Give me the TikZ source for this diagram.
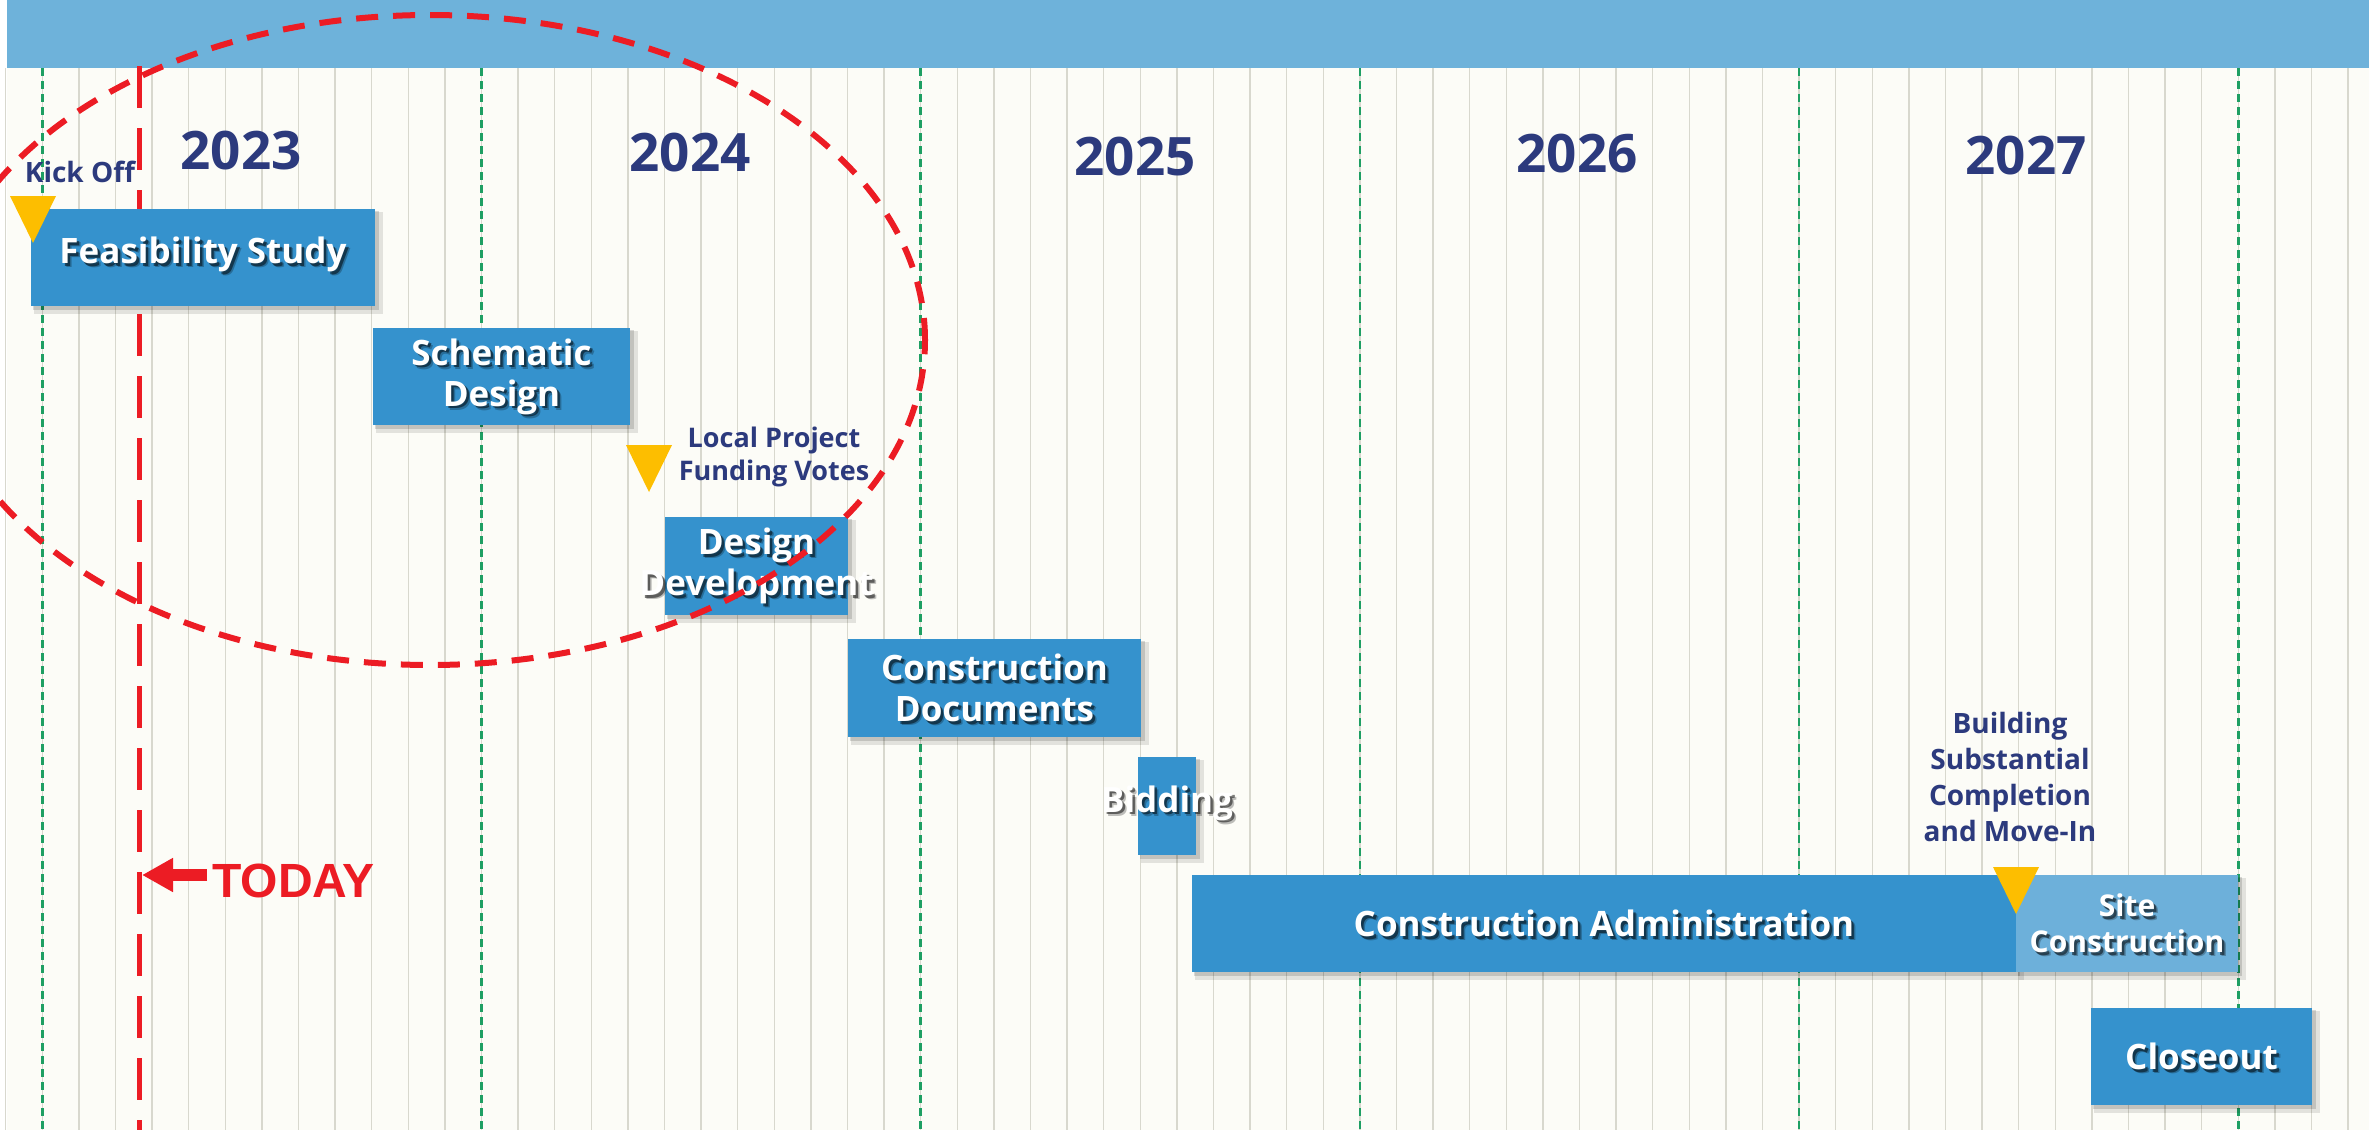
\documentclass[tikz,border=0pt]{standalone}
\usepackage{fontspec}
\setmainfont{Open Sans}
\newfontfamily\arialfont{Liberation Sans}
\usetikzlibrary{arrows.meta,calc,fit}
\definecolor{barblue}{HTML}{6EB2DA}
\definecolor{boxblue}{HTML}{3592CD}
\definecolor{lightbox}{HTML}{6DB0DA}
\definecolor{navy}{HTML}{2C3A7D}
\definecolor{msyellow}{HTML}{FDBE00}
\definecolor{todayred}{HTML}{EC1C24}
\definecolor{gridgray}{HTML}{D8D8CE}
\definecolor{greenline}{HTML}{1E9F63}
\definecolor{bgcream}{HTML}{FCFCF7}
\tikzset{
  gridline/.style={draw=gridgray, line width=1.5pt},
  yearline/.style={draw=greenline, line width=2.5pt, dash pattern=on 8pt off 5pt},
  todayline/.style={draw=todayred, line width=5pt, dash pattern=on 42pt off 20pt},
  ellipseline/.style={draw=todayred, line width=6pt, dash pattern=on 22pt off 15pt},
  boxnode/.style={fill=boxblue, draw=none, inner sep=0pt, outer sep=0pt},
  boxlabel/.style={text=white, font=\bfseries\fontsize{35}{41}\selectfont, align=center, inner sep=0pt},
  smalllabel/.style={font=\bfseries\fontsize{30}{36}\selectfont},
  navylabel/.style={text=navy, font=\bfseries\fontsize{28}{35}\selectfont, align=center, inner sep=0pt},
  yearlabel/.style={text=navy, font=\bfseries\fontsize{53}{60}\selectfont, inner sep=0pt, anchor=base},
  milestone/.style={fill=msyellow, draw=none},
  todaytext/.style={text=todayred, font=\arialfont\bfseries\fontsize{48}{52}\selectfont, inner sep=0pt, anchor=base west},
  todayarrow/.style={draw=todayred, line width=12pt, -{Triangle[length=31pt,width=32pt]}}
}
\newcommand{\taskbox}[6][]{%
  \fill[black, opacity=0.10] (#3+3,#4+3) rectangle (#5+8,#6+8);
  \fill[black, opacity=0.14] (#3+2,#4+2) rectangle (#5+4,#6+4);
  \node[boxnode,#1, fit={(#3,#4) (#5,#6)}] (#2) {};
}
\newcommand{\shadowlabel}[4][]{%
  \node[boxlabel,#1,text=black,opacity=0.25] (#2-sh2) at ($#3+(4,4)$) {#4};
  \node[boxlabel,#1,text=black,opacity=0.5] (#2-sh) at ($#3+(2.5,2.5)$) {#4};
  \node[boxlabel,#1] (#2) at #3 {#4};
}
\newcommand{\milestonetri}[2]{%
  \fill[milestone] (#1-23,#2) -- (#1+23,#2) -- (#1,#2+47) -- cycle;
}
\begin{document}
\begin{tikzpicture}[x=1pt,y=-1pt]
\useasboundingbox (0,0) rectangle (2369,1130);
\clip (0,0) rectangle (2369,1130);
\fill[white] (0,0) rectangle (2369,1130);
\fill[bgcream] (7,68) rectangle (2369,1130);
% month grid
\foreach \k in {-1,...,63} {
  \pgfmathsetmacro\gx{42.3+36.6*\k}
  \draw[gridline] (\gx,68) -- (\gx,1130);
}
% year separators
\foreach \k in {0,...,5} {
  \pgfmathsetmacro\gx{42.3+439.2*\k}
  \draw[yearline] (\gx,68) -- (\gx,1130);
}
% top bar
\fill[barblue] (7,0) rectangle (2369,68);
% today line
\coordinate (todaytop) at (139,66);
\coordinate (todaybot) at (139,1130);
\draw[todayline] (todaytop) -- (todaybot);
% years
\node[yearlabel] (y2023) at (241,169) {2023};
\node[yearlabel] (y2024) at (690,171) {2024};
\node[yearlabel] (y2025) at (1135,175) {2025};
\node[yearlabel] (y2026) at (1577,172) {2026};
\node[yearlabel] (y2027) at (2026,174) {2027};
% boxes
\taskbox{fs}{31}{209}{375}{306}
\taskbox{sd}{373}{328}{630}{425}
\taskbox{dd}{665}{517}{848}{615}
\taskbox{cd}{848}{639}{1141}{737}
\taskbox{bid}{1138}{757}{1196}{855}
\taskbox{ca}{1192}{875}{2016}{972}
\taskbox[fill=lightbox]{sc}{2016}{875}{2238}{972}
\taskbox{co}{2091}{1008}{2312}{1105}
% box labels
\shadowlabel[yshift=3pt]{fs-t}{(fs)}{Feasibility Study}
\shadowlabel{sd-t}{(sd)}{Schematic\\Design}
\shadowlabel{dd-t}{(dd)}{Design\\Development}
\shadowlabel{cd-t}{(cd)}{Construction\\Documents}
\shadowlabel[yshift=3pt]{bid-t}{(bid)}{Bidding}
\shadowlabel{ca-t}{(ca)}{Construction Administration}
\shadowlabel[smalllabel]{sc-t}{(sc)}{Site\\Construction}
\shadowlabel{co-t}{(co)}{Closeout}
% milestones
\milestonetri{33}{196}
\node[navylabel, anchor=base] (kickoff) at (80,182) {Kick Off};
\milestonetri{649}{445}
\node[navylabel, font=\bfseries\fontsize{27}{33}\selectfont] (lpfv) at (774,457) {Local Project\\Funding Votes};
\milestonetri{2016}{867}
\node[navylabel, font=\bfseries\fontsize{28}{35.7}\selectfont] (bsc) at (2010,777) {Building\\Substantial\\Completion\\and Move-In};
% ellipse
\coordinate (focus) at (430,340);
\draw[ellipseline] (focus) ellipse [x radius=495pt, y radius=325pt];
% today marker
\node[todaytext] (today) at (212,897) {TODAY};
\coordinate (todaytip) at (142,875);
\draw[todayarrow] ([xshift=-5pt]today.west |- todaytip) -- (todaytip);
\end{tikzpicture}
\end{document}
